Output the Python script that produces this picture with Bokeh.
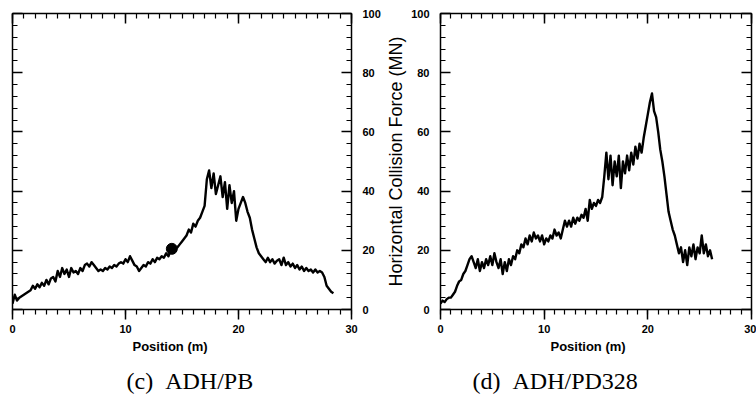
from bokeh.plotting import figure
from bokeh.layouts import row
from bokeh.models import Range1d, LinearAxis, SingleIntervalTicker, Title, CustomLabelingPolicy
from bokeh.embed import file_html
from bokeh.resources import INLINE

# ---- data: (c) ADH/PB ----
pos_c = [round(i * 0.2, 1) for i in range(143)]
force_c = [2, 5, 3, 4, 4.5, 5, 5.5, 6, 6.5, 8, 7, 8.5, 7.5, 9, 8, 10, 8.5, 10.5, 11, 9.5,
           13, 11, 14, 12, 13.5, 11, 14, 12.5, 13, 12, 14, 13, 15, 15.5, 14.5, 16, 15, 14, 13, 13.5,
           13, 14, 13.5, 14.5, 14, 15, 14.5, 15.5, 16, 15.5, 17, 16, 18, 16.5, 15, 14.5, 13, 14, 15, 14.5,
           16, 15.5, 17, 16, 17.5, 17, 18, 17.5, 19, 18, 20, 21, 20.5, 21, 22, 23, 24, 25, 27, 26,
           29, 28, 30, 31, 33, 35, 44, 47, 41, 46, 39, 42, 45, 38, 43, 34, 42, 36, 40, 30,
           34, 36, 38, 36, 33, 31, 27, 24, 21, 19, 18, 17, 16, 17.5, 16, 17, 15.5, 16.5, 17, 15,
           17.5, 15, 16, 14.5, 15.5, 14, 15, 13.5, 14.5, 13, 14, 13, 13.5, 12.5, 13.5, 12.5, 13, 12.5, 11, 8,
           7, 6, 5.5]
blob_x = [14.1]
blob_y = [20.5]

# ---- data: (d) ADH/PD328 ----
pos_d = [round(i * 0.2, 1) for i in range(132)]
force_d = [2, 3, 2.5, 3.5, 4, 4, 5, 6, 8, 9.5, 10, 12, 13, 15, 17, 18, 16, 14, 17, 13,
           16, 14, 17, 15, 18, 15, 19, 16, 14, 17, 12, 16, 13, 17, 15, 18, 17, 20, 19, 22,
           21, 24, 22, 25, 23, 26, 24, 25, 23, 25, 22, 24, 23, 25, 24, 27, 25, 26, 24, 27,
           30, 28, 30, 28, 31, 29, 31, 30, 32, 31, 34, 30, 37, 34, 36, 35, 37, 36, 38, 45,
           53, 44, 52, 42, 50, 45, 52, 41, 50, 46, 52, 47, 53, 49, 55, 51, 56, 53, 58, 62,
           66, 70, 73, 67, 65, 60, 54, 50, 45, 39, 33, 30, 27, 25, 22, 19, 21, 16, 20, 15,
           21, 18, 22, 17, 21, 19, 25, 19, 22, 18, 20, 17]

x_ticks_major = 10
y_ticks_major = 20
xlabel = "Position (m)"
ylabel = "Horizontal Collision Force (MN)"
captions = ["(c)\u00a0\u00a0ADH/PB", "(d)\u00a0\u00a0ADH/PD328"]

TICK_FONT = "Liberation Sans"


def style(ax, show_labels, inward=True):
    ax.axis_line_color = "black"
    ax.axis_line_width = 1.5
    ax.major_tick_line_color = "black"
    ax.minor_tick_line_color = "black"
    ax.major_tick_line_width = 1.5
    ax.minor_tick_line_width = 1.2
    if inward:
        ax.major_tick_in = 10
        ax.major_tick_out = 0
        ax.minor_tick_in = 5
        ax.minor_tick_out = 0
    else:
        ax.major_tick_in = 0
        ax.major_tick_out = 10
        ax.minor_tick_in = 0
        ax.minor_tick_out = 5
    if show_labels:
        ax.major_label_text_font = TICK_FONT
        ax.major_label_text_font_size = "11px"
        ax.major_label_text_font_style = "bold"
        ax.major_label_text_color = "black"
    else:
        ax.major_label_text_font_size = "1px"
        ax.major_label_standoff = 0
        ax.major_label_policy = CustomLabelingPolicy(code="return []")


def make_panel(width, mb_left, mb_right, mb_top, mb_bottom, ylab_side):
    p = figure(width=width, height=407, x_range=Range1d(0, 30), y_range=Range1d(0, 100),
               output_backend="svg", toolbar_location=None,
               x_axis_location=None, y_axis_location=None,
               min_border_left=mb_left, min_border_right=mb_right,
               min_border_top=mb_top, min_border_bottom=mb_bottom)
    p.xgrid.visible = False
    p.ygrid.visible = False
    p.outline_line_color = None
    p.background_fill_color = "white"
    p.border_fill_color = "white"

    xb = LinearAxis(ticker=SingleIntervalTicker(interval=x_ticks_major, num_minor_ticks=10))
    style(xb, True, inward=False)
    xb.major_label_standoff = 5
    p.add_layout(xb, "below")
    xt = LinearAxis(ticker=SingleIntervalTicker(interval=x_ticks_major, num_minor_ticks=10))
    style(xt, False)
    p.add_layout(xt, "above")

    ylab = LinearAxis(ticker=SingleIntervalTicker(interval=y_ticks_major, num_minor_ticks=5))
    style(ylab, True)
    ylab.major_label_standoff = 11
    ynol = LinearAxis(ticker=SingleIntervalTicker(interval=y_ticks_major, num_minor_ticks=5))
    style(ynol, False)
    if ylab_side == "right":
        ylab.major_label_orientation = "horizontal"
        p.add_layout(ylab, "right")
        p.add_layout(ynol, "left")
    else:
        p.add_layout(ylab, "left")
        p.add_layout(ynol, "right")
    return p, ylab


# left panel (c)
p1, _ = make_panel(383, 12, 31, 10, 98, "right")
p1.line(pos_c, force_c, line_color="black", line_width=2.4, line_join="round")
p1.scatter(blob_x, blob_y, size=11, color="black")
p1.add_layout(Title(text=xlabel, align="left", offset=120, text_font=TICK_FONT,
                    text_font_size="13px", text_font_style="bold", text_color="black",
                    standoff=2), "below")
p1.add_layout(Title(text=captions[0], align="left", offset=114, text_font="Liberation Serif",
                    text_font_size="24px", text_font_style="normal", text_color="black",
                    standoff=22), "below")

# right panel (d)
p2, yax = make_panel(373, 55, 5, 13, 95, "left")
yax.axis_label = ylabel
yax.axis_label_text_font = TICK_FONT
yax.axis_label_text_font_size = "18px"
yax.axis_label_text_font_style = "normal"
yax.axis_label_text_color = "black"
yax.axis_label_standoff = 2
p2.line(pos_d, force_d, line_color="black", line_width=2.4, line_join="round")
p2.add_layout(Title(text=xlabel, align="left", offset=110, text_font=TICK_FONT,
                    text_font_size="13px", text_font_style="bold", text_color="black",
                    standoff=2), "below")
p2.add_layout(Title(text=captions[1], align="left", offset=32, text_font="Liberation Serif",
                    text_font_size="24px", text_font_style="normal", text_color="black",
                    standoff=22), "below")

layout = row(p1, p2)
open("out.html", "w").write(file_html(layout, INLINE))
